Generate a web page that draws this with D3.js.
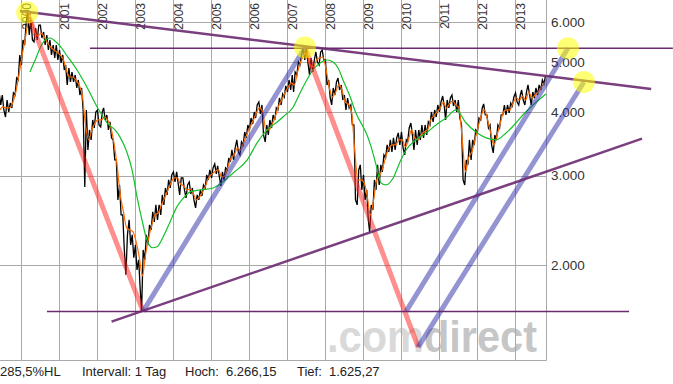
<!DOCTYPE html>
<meta charset="utf-8">
<title>Chart</title>
<style>
  body { margin: 0; background: #fff; }
  text { font-family: Arial, "Liberation Sans", sans-serif; }
</style>
<body>
<script src="https://cdnjs.cloudflare.com/ajax/libs/d3/7.8.5/d3.min.js"></script>
<script>

var width = 673;
var height = 384;

// monthly ranges of the index, Jun 1999 .. Oct 2013
var monthStart = new Date(1999, 5, 1);
var monthEnd = new Date(2013, 10, 1);

var priceHi = [
  4358,4316,4220,4163,4358,4661,5170,
  5532,6000,6266,6054,5840,5919,5919,5735,5658,5532,5409,5409,
  5288,5170,4942,4876,4788,4724,4619,4455,4034,3686,3856,3998,
  4034,3998,4071,3944,3822,3524,3220,2876,2512,2296,2456,2296,
  2194,2051,2145,2296,2402,2547,2628,2628,2749,2837,2942,3009,
  3050,3050,2968,2968,2876,2915,2837,2749,2812,2876,3009,3078,
  3106,3163,3134,3050,3106,3249,3368,3398,3524,3492,3653,3770,
  3890,3998,4126,4182,4126,3770,3856,3944,4071,4258,4336,4496,
  4619,4724,4788,5010,5170,5336,5360,5101,5055,5241,5241,5288,
  5055,4619,4455,4578,4661,4516,4316,4258,4126,3770,3078,3148,
  3009,2812,2628,2942,3148,3148,3293,3445,3524,3556,3556,3637,
  3653,3524,3719,3804,3686,3686,3770,3770,3822,3998,4034,4126,
  4182,4296,4220,4258,4316,4220,4220,3770,3220,3524,3524,3686,
  3890,4071,4145,3944,3770,3604,3770,3944,4126,4126,4163,4277,
  4358,4316,4415,4375,4516,4375,4455,4516,4619,4703
];

var priceLo = [
  4126,4034,3908,3998,4071,4316,4619,
  4942,5409,5658,5532,5483,5532,5582,5409,5288,5170,5101,5055,
  4987,4832,4516,4578,4578,4455,4316,4034,2850,3368,3524,3719,
  3770,3736,3856,3686,3556,3220,2688,2512,2145,1917,2194,2070,
  1960,1791,1625,2051,2194,2348,2434,2456,2512,2628,2749,2837,
  2915,2889,2749,2812,2712,2761,2688,2593,2688,2736,2837,2942,
  2968,3023,2995,2863,2942,3078,3191,3220,3338,3293,3445,3556,
  3686,3787,3890,3962,3604,3492,3604,3719,3856,4034,4126,4277,
  4375,4415,4375,4724,4942,5055,5010,4724,4788,5010,4942,5055,
  4516,4258,4126,4316,4415,4220,4034,4071,3770,2688,2628,2812,
  2688,2456,2327,2570,2812,2876,3050,3249,3338,3338,3368,3445,
  3398,3293,3492,3604,3368,3445,3524,3556,3604,3770,3822,3908,
  3998,4107,3856,4071,4107,3998,3890,2942,2876,3148,3220,3445,
  3653,3856,3944,3719,3445,3323,3524,3719,3944,3944,3980,4107,
  4182,4126,4220,4126,4316,4126,4258,4316,4415,4536
];

// short moving average (orange), one value per month
var maShort = [
  4034,4089,4071,4071,4163,4375,4724,
  5170,5582,6000,6000,5735,5633,5709,5608,5458,5360,5288,5241,
  5170,5055,4832,4681,4681,4619,4516,4316,3770,3524,3686,3804,
  3856,3856,3908,3856,3736,3477,3148,2749,2547,2370,2348,2327,
  2225,2070,1908,2098,2266,2402,2512,2535,2628,2712,2812,2902,
  2968,2968,2889,2863,2812,2824,2774,2688,2724,2787,2876,2981,
  3023,3064,3078,2981,2995,3120,3249,3293,3398,3368,3492,3620,
  3736,3856,3980,4071,3998,3686,3686,3787,3926,4107,4220,4356,
  4475,4557,4516,4789,5010,5170,5217,4942,4898,5055,5101,5124,
  4832,4455,4277,4375,4516,4415,4182,4145,3998,3368,2942,2942,
  2902,2712,2512,2688,2942,3009,3120,3293,3414,3445,3445,3524,
  3524,3414,3524,3686,3556,3524,3604,3653,3686,3856,3926,3998,
  4071,4182,4071,4145,4201,4126,4071,3524,3050,3249,3338,3524,
  3736,3944,4034,3856,3637,3445,3604,3804,3998,4034,4034,4163,
  4258,4220,4296,4220,4375,4258,4316,4375,4475,4578
];

// long moving average (green)
var maLongYears = [
  2000.24,2000.38,2000.51,2000.64,2000.77,2000.90,2001.03,2001.22,2001.48,2001.74,
  2002.01,2002.17,2002.27,2002.48,2002.61,2002.80,2002.93,2003.06,2003.19,2003.32,
  2003.46,2003.59,2003.75,2003.93,2004.11,2004.24,2004.46,2004.72,2005.06,2005.32,
  2005.59,2005.96,2006.22,2006.48,2006.75,2006.90,2007.17,2007.35,2007.53,2007.69,
  2007.88,2008.06,2008.22,2008.35,2008.48,2008.67,2008.82,2009.01,2009.09,2009.22,
  2009.35,2009.48,2009.61,2009.80,2009.98,2010.14,2010.40,2010.67,2010.93,2011.19,
  2011.46,2011.72,2011.98,2012.25,2012.51,2012.77,2013.03,2013.14,2013.48,2013.82
];
var maLongValues = [
  4789,5055,5336,5532,5582,5507,5385,5147,4832,4475,
  4089,3908,3804,3686,3572,3323,3078,2724,2456,2245,
  2166,2176,2276,2434,2605,2688,2787,2812,2837,2915,
  3036,3220,3477,3686,3822,3908,4089,4356,4619,4832,
  4987,5055,5010,4876,4619,4277,3980,3736,3637,3414,
  3148,2902,2876,2968,3191,3368,3524,3637,3770,3890,
  4034,3804,3653,3556,3524,3637,3804,3890,4126,4336
];

// trend lines drawn on the chart: [year, price] pairs
var resistLine = [[1999.98, 6305], [2016.59, 4435]];
var supportLine = [[2002.39, 1552], [2016.35, 3545]];
var topLevel = [[2001.82, 5330], [2017.16, 5330]];
var lowLevel = [[2000.69, 1625], [2016.01, 1625]];
var redLines = [
  [[2000.17, 6266], [2003.22, 1625]],
  [[2007.48, 5348], [2010.46, 1383]]
];
var blueLines = [
  [[2003.22, 1625], [2007.48, 5348]],
  [[2010.14, 1625], [2014.40, 5330]],
  [[2010.46, 1383], [2014.82, 4577]]
];
var markers = [[2000.17, 6266], [2007.48, 5348], [2014.40, 5330], [2014.82, 4577]];

var yearTicks = d3.range(2000, 2014);
var priceTicks = [2000, 3000, 4000, 5000, 6000];
var footer = [
  {x: 0, t: "285,5%HL"},
  {x: 82, t: "Intervall: 1 Tag"},
  {x: 185, t: "Hoch:"},
  {x: 226, t: "6.266,15"},
  {x: 297, t: "Tief:"},
  {x: 329, t: "1.625,27"}
];

var plotW = 546, plotH = 360;

function yr(t) {
  var y = Math.floor(t);
  var a = new Date(y, 0, 1), b = new Date(y + 1, 0, 1);
  return new Date(+a + (t - y) * (b - a));
}

var x = d3.scaleTime()
  .domain([new Date(1999, 5, 16), new Date(2013, 9, 28)])
  .range([0, plotW]);
var y = d3.scaleLog()
  .domain([1305, 6627])
  .range([plotH, 0]);

var de = d3.formatLocale({decimal: ",", thousands: ".", grouping: [3], currency: ["", "€"]});
var fmt = de.format(",d");

var svg = d3.select("body")
  .append("svg")
  .attr("width", width)
  .attr("height", height);

// watermark
var wm = svg.append("text")
  .attr("x", 327)
  .attr("y", 352)
  .style("font-size", "44px")
  .style("font-weight", "bold")
  .attr("textLength", 210)
  .attr("lengthAdjust", "spacingAndGlyphs");
wm.append("tspan").style("fill", "#d9d9d9").text(".com");
wm.append("tspan").style("fill", "#c6c6c6").text("direct");

// grid
svg.append("g").selectAll("line")
  .data(yearTicks)
  .join("line")
  .attr("x1", function(d) { return Math.round(x(new Date(d, 0, 1))) + 0.5; })
  .attr("x2", function(d) { return Math.round(x(new Date(d, 0, 1))) + 0.5; })
  .attr("y1", 0).attr("y2", plotH)
  .style("stroke", "#a9a9a9");

svg.append("g").selectAll("line")
  .data(priceTicks)
  .join("line")
  .attr("x1", 0).attr("x2", plotW)
  .attr("y1", function(d) { return Math.round(y(d)) + 0.5; })
  .attr("y2", function(d) { return Math.round(y(d)) + 0.5; })
  .style("stroke", "#a9a9a9");

svg.append("line")
  .attr("x1", plotW + 0.5).attr("x2", plotW + 0.5)
  .attr("y1", 0).attr("y2", plotH + 0.5)
  .style("stroke", "#a9a9a9");
svg.append("line")
  .attr("x1", 0).attr("x2", plotW + 0.5)
  .attr("y1", plotH + 0.5).attr("y2", plotH + 0.5)
  .style("stroke", "#a9a9a9");

// year labels at the top
svg.append("g").selectAll("text")
  .data(yearTicks)
  .join("text")
  .attr("text-anchor", "end")
  .attr("transform", function(d) {
    return "translate(" + (x(new Date(d, 0, 1)) + 10) + ",3) rotate(-90)";
  })
  .style("font-size", "12px")
  .style("fill", "#333")
  .text(function(d) { return d; });

// price labels on the right
svg.append("g").selectAll("text")
  .data(priceTicks)
  .join("text")
  .attr("x", 551)
  .attr("y", function(d) { return y(d); })
  .attr("dy", ".35em")
  .style("font-size", "13.5px")
  .style("fill", "#333")
  .text(function(d) { return fmt(d); });

// price series
var months = d3.timeMonth.range(monthStart, monthEnd);
var pts = [];
months.forEach(function(m, i) {
  var a = new Date(m.getFullYear(), m.getMonth(), 8);
  var b = new Date(m.getFullYear(), m.getMonth(), 23);
  var mid = (priceHi[i] + priceLo[i]) / 2;
  var next = i < months.length - 1 ? (priceHi[i + 1] + priceLo[i + 1]) / 2 : mid;
  if (next >= mid) {
    pts.push([a, priceLo[i]], [b, priceHi[i]]);
  } else {
    pts.push([a, priceHi[i]], [b, priceLo[i]]);
  }
});

var line = d3.line()
  .x(function(d) { return x(d[0]); })
  .y(function(d) { return y(d[1]); });

var plot = svg.append("g");

plot.append("path")
  .datum(pts)
  .attr("d", line)
  .style("fill", "none")
  .style("stroke", "#000")
  .style("stroke-width", 1.3);

plot.append("path")
  .datum(months.map(function(m, i) { return [new Date(m.getFullYear(), m.getMonth(), 15), maShort[i]]; }))
  .attr("d", line.curve(d3.curveMonotoneX))
  .style("fill", "none")
  .style("stroke", "#ff6a00")
  .style("stroke-width", 1.2);

plot.append("path")
  .datum(maLongYears.map(function(t, i) { return [yr(t), maLongValues[i]]; }))
  .attr("d", line.curve(d3.curveMonotoneX))
  .style("fill", "none")
  .style("stroke", "#12c02a")
  .style("stroke-width", 1.2);

// trend lines
var tl = d3.line()
  .x(function(d) { return x(yr(d[0])); })
  .y(function(d) { return y(d[1]); });

var marks = svg.append("g");

marks.selectAll(".red")
  .data(redLines)
  .join("path")
  .attr("d", tl)
  .style("stroke", "#ff2020")
  .style("stroke-opacity", 0.5)
  .style("stroke-width", 5);

marks.selectAll(".blue")
  .data(blueLines)
  .join("path")
  .attr("class", "blue")
  .attr("d", tl)
  .style("stroke", "#2a2aa8")
  .style("stroke-opacity", 0.5)
  .style("stroke-width", 5);

marks.selectAll(".lvl")
  .data([topLevel, lowLevel])
  .join("path")
  .attr("class", "lvl")
  .attr("d", tl)
  .style("stroke", "#6b2a70")
  .style("stroke-width", 1.5);

marks.selectAll(".trend")
  .data([resistLine, supportLine])
  .join("path")
  .attr("class", "trend")
  .attr("d", tl)
  .style("stroke", "#6b2a70")
  .style("stroke-opacity", 0.9)
  .style("stroke-width", 2.5);

marks.selectAll("circle")
  .data(markers)
  .join("circle")
  .attr("cx", function(d) { return x(yr(d[0])); })
  .attr("cy", function(d) { return y(d[1]); })
  .attr("r", 11)
  .style("fill", "#ffff00")
  .style("fill-opacity", 0.55);

// footer
svg.append("g").selectAll("text")
  .data(footer)
  .join("text")
  .attr("x", function(d) { return d.x; })
  .attr("y", 376)
  .style("font-size", "13px")
  .style("fill", "#222")
  .text(function(d) { return d.t; });

</script>
